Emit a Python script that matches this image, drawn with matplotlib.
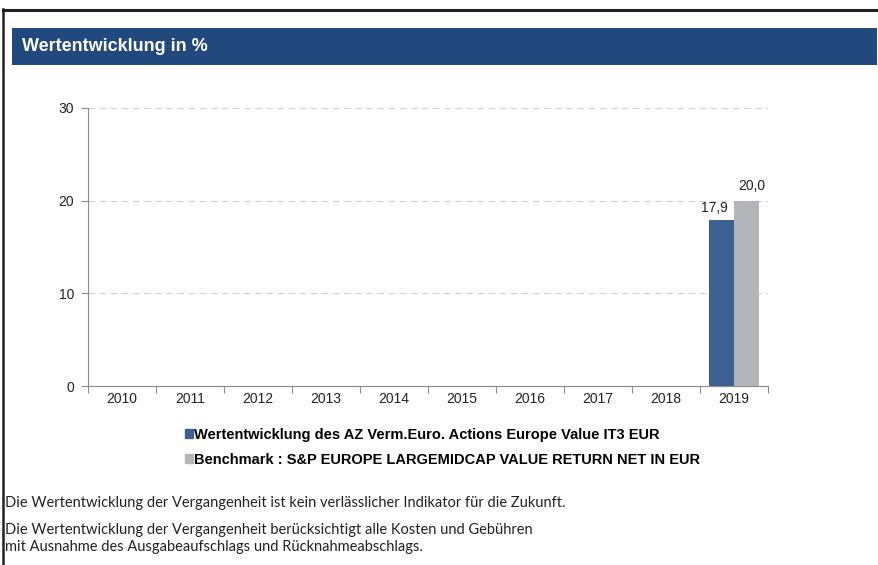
import matplotlib.pyplot as plt
import matplotlib.patches as mpatches
from matplotlib.lines import Line2D
import numpy as np

W, H = 879, 565

years = ["2010", "2011", "2012", "2013", "2014", "2015", "2016", "2017", "2018", "2019"]
fund = [None, None, None, None, None, None, None, None, None, 17.9]
bench = [None, None, None, None, None, None, None, None, None, 20.0]

fund_label = "Wertentwicklung des AZ Verm.Euro. Actions Europe Value IT3 EUR"
bench_label = "Benchmark : S&P EUROPE LARGEMIDCAP VALUE RETURN NET IN EUR"
title = "Wertentwicklung in %"
notes = [
    "Die Wertentwicklung der Vergangenheit ist kein verlässlicher Indikator für die Zukunft.",
    "Die Wertentwicklung der Vergangenheit berücksichtigt alle Kosten und Gebühren\n"
    "mit Ausnahme des Ausgabeaufschlags und Rücknahmeabschlags.",
]

c_fund = "#3F6192"
c_bench = "#B4B5BA"
c_head = "#21497D"
c_axis = "#8C8C8C"

plt.rcParams["font.family"] = ["Liberation Sans", "DejaVu Sans"]

fig = plt.figure(figsize=(W / 100, H / 100), dpi=100)

def fx(px):
    return px / W

def fy(py):
    return 1 - py / H

# outer frame (top + left)
fig.add_artist(Line2D([fx(3), 1], [fy(9.5), fy(9.5)], color="#222222", lw=2.2))
fig.add_artist(Line2D([fx(3.5), fx(3.5)], [fy(9), 0], color="#222222", lw=1.8))

# header band
fig.add_artist(mpatches.Rectangle((fx(12), fy(65)), fx(877) - fx(12), fy(28) - fy(65),
                                  color=c_head, lw=0))
fig.text(fx(22), fy(46.5), title, color="white", fontsize=13, fontweight="bold",
         va="center", ha="left")

ax = fig.add_axes([fx(88), fy(386), fx(768) - fx(88), fy(108) - fy(386)])
x = np.arange(len(years))
bw = 0.37
fv = np.array([np.nan if v is None else v for v in fund], dtype=float)
bv = np.array([np.nan if v is None else v for v in bench], dtype=float)
ax.bar(x - bw / 2, fv, bw, color=c_fund, zorder=3)
ax.bar(x + bw / 2, bv, bw, color=c_bench, zorder=3)
for i in range(len(years)):
    if not np.isnan(fv[i]):
        ax.text(x[i] - bw / 2 - 0.1, fv[i] + 0.6, f"{fv[i]:.1f}".replace(".", ","),
                ha="center", va="bottom", fontsize=10, color="#222222", zorder=4)
    if not np.isnan(bv[i]):
        ax.text(x[i] + bw / 2 + 0.08, bv[i] + 0.85, f"{bv[i]:.1f}".replace(".", ","),
                ha="center", va="bottom", fontsize=10, color="#222222", zorder=4)

ax.set_xlim(-0.5, len(years) - 0.5)
ax.set_ylim(0, 30)
ax.set_yticks([0, 10, 20, 30])
ax.set_xticks(x)
ax.set_xticklabels(years)
ax.set_xticks(np.arange(len(years) + 1) - 0.5, minor=True)
ax.tick_params(axis="x", which="major", length=0, pad=4, labelsize=10, labelcolor="#222222")
ax.tick_params(axis="x", which="minor", length=5, color=c_axis, width=0.8)
ax.tick_params(axis="y", length=5, color=c_axis, width=0.8, pad=5, labelsize=10,
               labelcolor="#222222")
for s in ["top", "right"]:
    ax.spines[s].set_visible(False)
for s in ["left", "bottom"]:
    ax.spines[s].set_color(c_axis)
    ax.spines[s].set_linewidth(0.8)
for g in [10, 20, 30]:
    ax.axhline(g, color="#D0D0D0", lw=0.8, ls=(0, (6, 4)), zorder=1)

handles = [mpatches.Patch(color=c_fund, label=fund_label),
           mpatches.Patch(color=c_bench, label=bench_label)]
leg = fig.legend(handles=handles, loc="upper left", bbox_to_anchor=(fx(185), fy(428)),
                 frameon=False, handlelength=0.55, handleheight=0.55, handletextpad=0.1,
                 labelspacing=0.75, borderaxespad=0, borderpad=0,
                 prop={"weight": "bold", "size": 10.5})

fig.text(fx(5), fy(503), notes[0], fontsize=10.5, family=["Lato", "DejaVu Sans"],
         va="center", ha="left", color="#222222")
fig.text(fx(5), fy(538.5), notes[1], fontsize=10.5, family=["Lato", "DejaVu Sans"],
         va="center", ha="left", color="#222222", linespacing=1.3)

fig.savefig("out.png", dpi=100)
